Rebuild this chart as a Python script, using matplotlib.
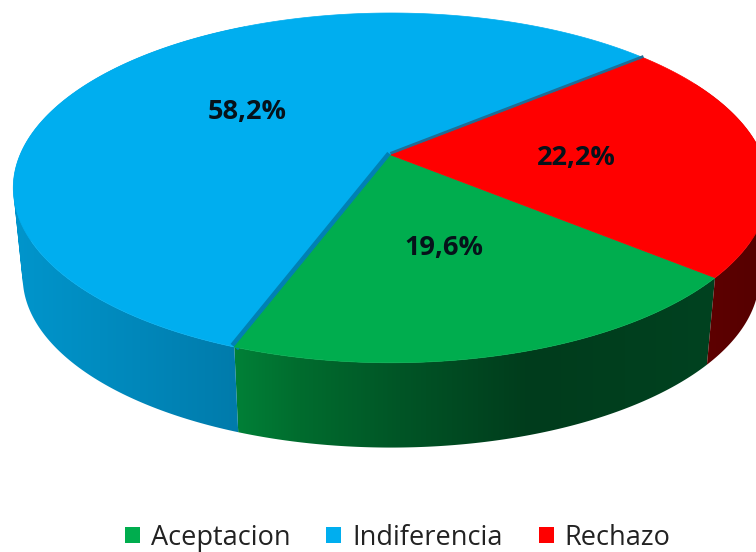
import numpy as np
import matplotlib
matplotlib.use("Agg")
import matplotlib.pyplot as plt
from matplotlib.colors import LinearSegmentedColormap
from matplotlib.patches import Patch
from matplotlib.path import Path

# data
categories = ["Aceptacion", "Indiferencia", "Rechazo"]
values = [19.6, 58.2, 22.2]
labels = ["19,6%", "58,2%", "22,2%"]
colors = ["#00AD4E", "#00AEEF", "#FF0000"]

# side shading: (screen x, colour)
side_stops = [
    ([230, 300, 400, 530, 720], [(0, 130, 56), (0, 108, 46), (0, 85, 38), (0, 60, 28), (0, 66, 32)]),
    ([5, 100, 245], [(0, 150, 205), (0, 140, 192), (0, 122, 170)]),
    ([695, 765], [(95, 0, 0), (85, 0, 0)]),
]

# projection of the tilted disc
START = -39.8
K = 0.188
A, B = 371.0, 168.7
CX, CY = 391.0, 155.0
SIDE_SCALE, SIDE_CY = 0.975, 245.0


def project(theta, r=1.0, scale=1.0, cy=CY):
    t = np.radians(theta)
    u, v = r * np.cos(t), r * np.sin(t)
    w = 1 + K * v
    return CX + scale * A * u / w, cy - scale * B * v / w


def wall_path(x1, y1, x2, y2):
    """Union of the wall's quads, all wound the same way so none cancels."""
    verts, codes = [], []
    for i in range(len(x1) - 1):
        q = np.array([(x1[i], y1[i]), (x1[i + 1], y1[i + 1]), (x2[i + 1], y2[i + 1]), (x2[i], y2[i])])
        area = np.sum(q[:, 0] * np.roll(q[:, 1], -1) - np.roll(q[:, 0], -1) * q[:, 1])
        if area < 0:
            q = q[::-1]
        verts += list(q) + [q[0]]
        codes += [Path.MOVETO, Path.LINETO, Path.LINETO, Path.LINETO, Path.CLOSEPOLY]
    return Path(verts, codes)


fig = plt.figure(figsize=(7.56, 5.52), dpi=100)
ax = fig.add_axes([0, 0, 1, 1])
ax.axis("off")

# angular extents, clockwise from START
spans = np.array(values) * 3.6
ends = START - np.cumsum(spans)
starts = ends + spans

# sides: a horizontal gradient image clipped to each slice's outer wall
for a0, a1, (sx, sc) in zip(starts, ends, side_stops):
    th = np.linspace(a0, a1, 300)
    x1, y1 = project(th)
    x2, y2 = project(th, scale=SIDE_SCALE, cy=SIDE_CY)
    sx = np.array(sx, dtype=float)
    pos = (sx - sx[0]) / (sx[-1] - sx[0])
    cmap = LinearSegmentedColormap.from_list(
        "side", [(p, tuple(v / 255 for v in c)) for p, c in zip(pos, sc)], N=512)
    grad = np.linspace(0, 1, 512)[None, :]
    im = ax.imshow(grad, cmap=cmap, extent=(sx[0], sx[-1], 552, 0), aspect="auto", zorder=1)
    im.set_clip_path(wall_path(x1, y1, x2, y2), transform=ax.transData)

# tops: largest slice first, so its dark cut edge lies beneath the others
for i in [1, 0, 2]:
    th = np.linspace(starts[i], ends[i], 300)
    x, y = project(th)
    ax.fill(np.r_[CX, x], np.r_[CY, y], color=colors[i], lw=0.5, zorder=3)
    if i == 1:
        for a, col, lw in ((starts[1], "#0080B4", 7.0), (ends[1], "#1F6E96", 4.5)):
            ex, ey = project(a)
            ax.plot([CX, ex], [CY, ey], color=col, lw=lw, zorder=3, solid_capstyle="butt")

# percentage labels
for a0, a1, lab in zip(starts, ends, labels):
    tx, ty = project((a0 + a1) / 2, r=0.5)
    ax.text(tx, ty, lab, ha="center", va="center_baseline", fontsize=19.5, fontweight="bold",
            family="Open Sans", color="#06121A", zorder=5)

ax.set_xlim(0, 756)
ax.set_ylim(552, 0)

# legend
handles = [Patch(facecolor=c, edgecolor="none") for c in colors]
ax.legend(handles, categories, loc="center", bbox_to_anchor=(0.526, 0.026), ncol=3, frameon=False,
          prop={"family": "Open Sans", "size": 19.5}, labelcolor="#222222",
          handlelength=0.55, handleheight=0.55, handletextpad=0.4, columnspacing=1.33,
          borderpad=0, borderaxespad=0)

fig.savefig("out.png", dpi=100)
